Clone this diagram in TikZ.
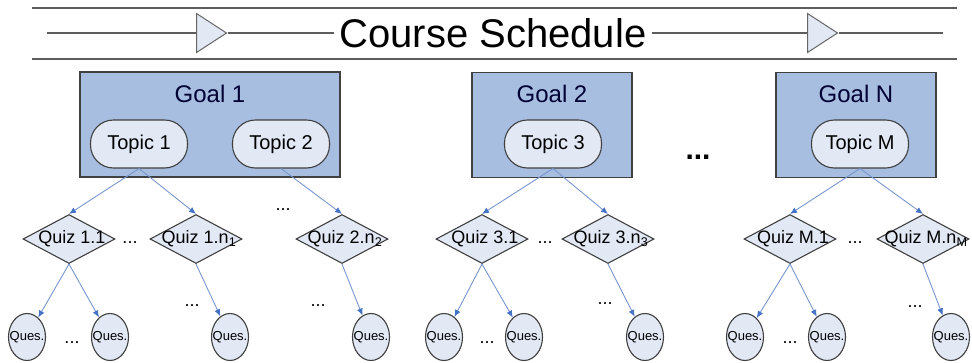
\documentclass[tikz,border=0pt]{standalone}
\usepackage{fontspec}
\setmainfont{Liberation Sans}
\usetikzlibrary{shapes.geometric,arrows.meta,positioning}
\definecolor{goalblue}{RGB}{168,190,224}
\definecolor{paleblue}{RGB}{226,233,245}
\definecolor{edgegray}{RGB}{64,64,64}
\definecolor{linkblue}{RGB}{120,150,205}
\definecolor{tipblue}{RGB}{68,114,196}
\tikzstyle{goal} = [draw=edgegray, line width=1.2pt, fill=goalblue, rectangle, minimum height=105pt, inner sep=0pt]
\tikzstyle{goaltext} = [font=\fontsize{24}{28}\selectfont, text=black!80!blue]
\tikzstyle{topic} = [draw=edgegray, line width=1.1pt, fill=paleblue, rectangle, rounded corners=23pt, minimum width=97pt, minimum height=48pt, font=\fontsize{20}{24}\selectfont]
\tikzstyle{quiz} = [draw=edgegray, line width=1.1pt, fill=paleblue, diamond, minimum width=92pt, minimum height=49pt, inner sep=0pt]
\tikzstyle{qlabel} = [font=\fontsize{18}{21}\selectfont, xshift=3pt, inner sep=0pt]
\tikzstyle{ques} = [draw=edgegray, line width=1.1pt, fill=paleblue, ellipse, minimum width=37pt, minimum height=47pt, inner sep=0pt, label={[font=\fontsize{13}{15}\selectfont, inner sep=0pt]center:Ques.}]
\tikzstyle{ellip} = [font=\fontsize{18}{20}\selectfont, inner sep=0pt]
\tikzstyle{arrowmark} = [draw=edgegray!80, line width=1pt, fill=paleblue, isosceles triangle, isosceles triangle stretches, minimum width=39pt, minimum height=30pt, inner sep=0pt, anchor=west]
\tikzstyle{hrule} = [draw=edgegray!85, line width=1.5pt]
\tikzstyle{link} = [draw=linkblue, line width=0.9pt, -{Latex[length=7pt,width=6pt,color=tipblue]}]

\begin{document}
\begin{tikzpicture}[x=1pt, y=-1pt]
	  \useasboundingbox (0,0) rectangle (972,362);

	  \draw [hrule] (32,8) -- (957,8);
	  \draw [hrule] (32,59) -- (957,59);
	  \coordinate (hl) at (47,33);
	  \coordinate (hr) at (943,33);
	  \node [arrowmark] (m1) at (196,33) {};
	  \node [font=\fontsize{40}{48}\selectfont, inner xsep=5pt] (title) at (493,33) {Course Schedule};
	  \node [arrowmark] (m2) at (807,33) {};
	  \draw [hrule] (hl) -- (m1) -- (title) -- (m2) -- (hr);

	  \node [goal, minimum width=260pt] (g1) at (210,124.5) {};
	  \node [goal, minimum width=160pt] (g2) at (552,125) {};
	  \node [goal, minimum width=160pt] (gN) at (856,125) {};
	  \node [goaltext, below=10pt of g1.north] (g1t) {Goal 1};
	  \node [goaltext, below=10pt of g2.north] (g2t) {Goal 2};
	  \node [goaltext, below=10pt of gN.north] (gNt) {Goal N};
	  \node [font=\bfseries\fontsize{30}{34}\selectfont, inner sep=0pt] (gdots) at (698,157) {...};

	  \node [topic] (t1) at (139,144) {Topic 1};
	  \node [topic] (t2) at (281,144) {Topic 2};
	  \node [topic] (t3) at (553,144) {Topic 3};
	  \node [topic] (tM) at (860,144) {Topic M};

	  \node [quiz, label={[qlabel]center:Quiz 1.1}] (z11) at (69,239) {};
	  \node [quiz, label={[qlabel]center:Quiz 1.n\textsubscript{1}}] (z1n) at (196,239) {};
	  \node [quiz, label={[qlabel]center:Quiz 2.n\textsubscript{2}}] (z2n) at (342,239) {};
	  \node [quiz, label={[qlabel]center:Quiz 3.1}] (z31) at (482,239) {};
	  \node [quiz, label={[qlabel]center:Quiz 3.n\textsubscript{3}}] (z3n) at (608,239) {};
	  \node [quiz, label={[qlabel]center:Quiz M.1}] (zM1) at (790,239) {};
	  \node [quiz, label={[qlabel]center:Quiz M.n\textsubscript{M}}] (zMn) at (923,239) {};

	  \node [ques] (u1) at (27,337) {};
	  \node [ques] (u2) at (110,337) {};
	  \node [ques] (u3) at (230,337) {};
	  \node [ques] (u4) at (371,337) {};
	  \node [ques] (u5) at (444,337) {};
	  \node [ques] (u6) at (524,337) {};
	  \node [ques] (u7) at (645,337) {};
	  \node [ques] (u8) at (745,337) {};
	  \node [ques] (u9) at (827,337) {};
	  \node [ques] (u10) at (951,337) {};

	  \node [ellip] (d1) at (130,243) {...};
	  \node [ellip] (d2) at (545,243) {...};
	  \node [ellip] (d3) at (855,243) {...};
	  \node [ellip] (d4) at (283,210) {...};
	  \node [ellip] (d5) at (72,343) {...};
	  \node [ellip] (d6) at (487,343) {...};
	  \node [ellip] (d7) at (790,343) {...};
	  \node [ellip] (d8) at (192,306) {...};
	  \node [ellip] (d9) at (318,306) {...};
	  \node [ellip] (d10) at (605,304) {...};
	  \node [ellip] (d11) at (915,307) {...};

	  \draw [link] (t1.south) -- (z11.north);
	  \draw [link] (t1.south) -- (z1n.north);
	  \draw [link] (t2.south) -- (z2n.north);
	  \draw [link] (t3.south) -- (z31.north);
	  \draw [link] (t3.south) -- (z3n.north);
	  \draw [link] (tM.south) -- (zM1.north);
	  \draw [link] (tM.south) -- (zMn.north);

	  \draw [link] (z11.south) -- (u1);
	  \draw [link] (z11.south) -- (u2);
	  \draw [link] (z1n.south) -- (u3);
	  \draw [link] (z2n.south) -- (u4);
	  \draw [link] (z31.south) -- (u5);
	  \draw [link] (z31.south) -- (u6);
	  \draw [link] (z3n.south) -- (u7);
	  \draw [link] (zM1.south) -- (u8);
	  \draw [link] (zM1.south) -- (u9);
	  \draw [link] (zMn.south) -- (u10);
	\end{tikzpicture}
\end{document}
